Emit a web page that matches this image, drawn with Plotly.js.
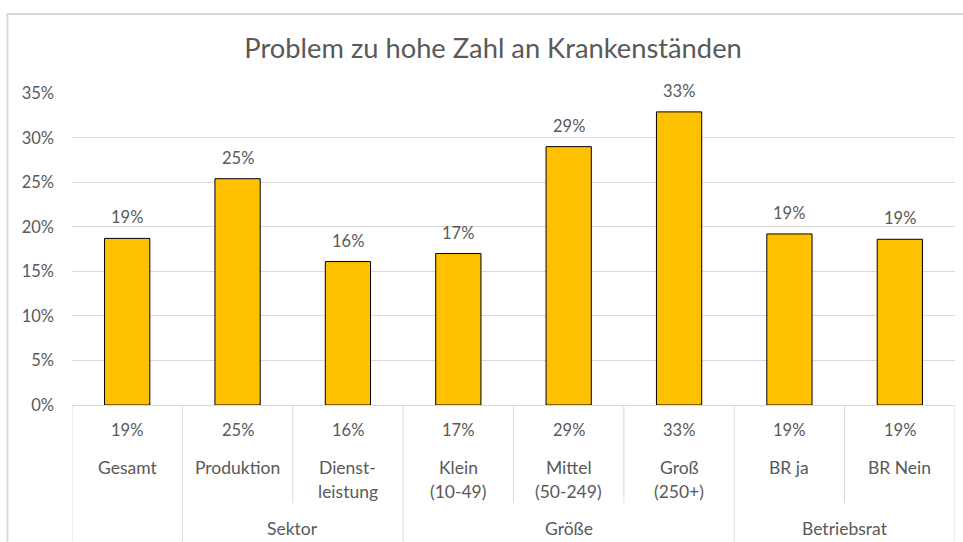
<!DOCTYPE html>
<html>
<head>
<meta charset="utf-8">
<script src="https://cdn.plot.ly/plotly-3.0.1.min.js"></script>
<style>html,body{margin:0;padding:0;background:#fff;}#chart{width:963px;height:542px;}</style>
</head>
<body>
<div id="chart"></div>
<script>
const categories = ['Gesamt','Produktion','Dienstleistung','Klein (10-49)','Mittel (50-249)','Groß (250+)','BR ja','BR Nein'];
const labelLine1 = ['Gesamt','Produktion','Dienst-','Klein','Mittel','Groß','BR ja','BR Nein'];
const labelLine2 = ['','','leistung','(10-49)','(50-249)','(250+)','',''];
const groups = ['','Sektor','Sektor','Größe','Größe','Größe','Betriebsrat','Betriebsrat'];
const values = [0.187, 0.254, 0.161, 0.170, 0.290, 0.329, 0.192, 0.186];
const yTickVals = [0,0.05,0.10,0.15,0.20,0.25,0.30,0.35];

const FONT = 'Lato, "Open Sans", sans-serif';
const GREY = '#595959';
const LINE = '#D9D9D9';
const NUM_SIZE = 16.5, WORD_SIZE = 17.5;
const fmt = v => Math.round(v*100) + '%';

// plot-area pixel helpers for paper coordinates (plot: y 93..405, height 312; x 72..955)
const PH = 312, PW = 883;
const py = p => (405 - p) / PH;
const px = p => (p - 72) / PW;

const idx = categories.map((c,i)=>i);
const annotations = [];
const shapes = [];

// data labels above bars
values.forEach((v,i)=>{
  annotations.push({x:i, y:v, xref:'x', yref:'y', text:fmt(v), showarrow:false,
    yanchor:'bottom', yshift:9, font:{family:FONT,size:NUM_SIZE,color:GREY}});
});
// table: values row and labels
values.forEach((v,i)=>{
  annotations.push({x:i, y:py(430), xref:'x', yref:'paper', text:fmt(v), showarrow:false,
    yanchor:'middle', font:{family:FONT,size:NUM_SIZE,color:GREY}});
  annotations.push({x:i, y:py(467), xref:'x', yref:'paper', text:labelLine1[i], showarrow:false,
    yanchor:'middle', font:{family:FONT,size:WORD_SIZE,color:GREY}});
  if (labelLine2[i]) annotations.push({x:i, y:py(492), xref:'x', yref:'paper', text:labelLine2[i], showarrow:false,
    yanchor:'middle', font:{family:FONT,size:WORD_SIZE,color:GREY}});
});
// group labels
const groupNames = [...new Set(groups.filter(g=>g))];
groupNames.forEach(g=>{
  const members = idx.filter(i=>groups[i]===g);
  const c = (members[0] + members[members.length-1]) / 2;
  annotations.push({x:c, y:py(528), xref:'x', yref:'paper', text:g, showarrow:false,
    yanchor:'middle', font:{family:FONT,size:WORD_SIZE,color:GREY}});
});
// table vertical lines
for (let i=0;i<=categories.length;i++){
  const full = (i===0 || i===categories.length || groups[i]!==groups[i-1]);
  shapes.push({type:'line', xref:'x', yref:'paper', x0:i-0.5, x1:i-0.5, y0:0, y1: full ? py(545) : py(503),
    line:{color:LINE,width:1}});
}
// chart frame (left + top)
shapes.push({type:'line', xref:'paper', yref:'paper', x0:px(7.5), x1:px(7.5), y0:py(545), y1:py(14), line:{color:'#D9D9D9',width:2}});
shapes.push({type:'line', xref:'paper', yref:'paper', x0:px(6.5), x1:px(970), y0:py(14), y1:py(14), line:{color:'#D9D9D9',width:2}});

const trace = {
  type:'bar', x:idx, y:values,
  marker:{color:'#FFC000', line:{color:'#000000', width:1}},
  hoverinfo:'skip'
};

const layout = {
  width:963, height:542,
  margin:{l:72, r:8, t:93, b:137},
  paper_bgcolor:'#ffffff', plot_bgcolor:'#ffffff',
  title:{text:'Problem zu hohe Zahl an Krankenständen', font:{family:FONT,size:27.3,color:GREY},
    xref:'container', x:0.512, xanchor:'center', yref:'container', y:1-48/542, yanchor:'middle'},
  bargap:0.59,
  showlegend:false,
  xaxis:{type:'linear', range:[-0.5, categories.length-0.5], showticklabels:false, showgrid:false, zeroline:false,
    showline:false, ticks:'', fixedrange:true},
  yaxis:{range:[0,0.3502], tickvals:yTickVals, tickformat:'.0%', showgrid:true, gridcolor:LINE, gridwidth:1,
    zeroline:true, zerolinecolor:LINE, zerolinewidth:1, showline:false, ticks:'', ticklabelstandoff:17,
    tickfont:{family:FONT,size:NUM_SIZE,color:GREY}, fixedrange:true},
  annotations:annotations,
  shapes:shapes
};

Plotly.newPlot('chart',[trace],layout,{staticPlot:true, displayModeBar:false});
</script>
</body>
</html>
